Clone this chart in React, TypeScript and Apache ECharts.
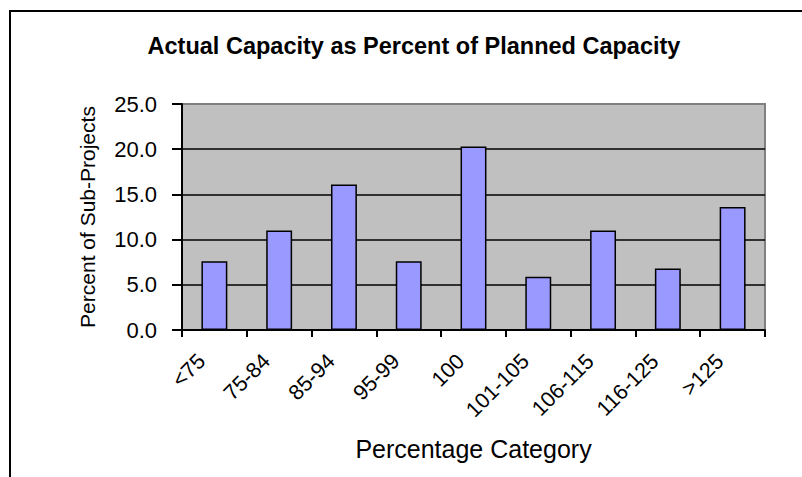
import React, { useEffect, useRef } from "react";
import * as echarts from "echarts";

const categories = ["<75", "75-84", "85-94", "95-99", "100", "101-105", "106-115", "116-125", ">125"];
const percentValues = [7.6, 11.0, 16.1, 7.6, 20.3, 5.9, 11.0, 6.8, 13.6];
const titleText = "Actual Capacity as Percent of Planned Capacity";
const xAxisName = "Percentage Category";
const yAxisName = "Percent of Sub-Projects";

const FONT = '"Liberation Sans", Arial, sans-serif';

export default function App() {
  const ref = useRef<HTMLDivElement>(null);
  useEffect(() => {
    if (!ref.current) return;
    const chart = echarts.init(ref.current, undefined, { renderer: "svg" });
    chart.setOption({
      animation: false,
      backgroundColor: "#ffffff",
      title: {
        text: titleText,
        left: 409,
        top: 29,
        textAlign: "center",
        textStyle: { fontFamily: FONT, fontSize: 23.5, fontWeight: "bold", color: "#000" },
      },
      graphic: [
        {
          type: "rect",
          shape: { x: 10, y: 11, width: 900, height: 700 },
          style: { fill: "none", stroke: "#000", lineWidth: 2 },
          silent: true,
          z: 100,
        },
      ],
      grid: {
        left: 182,
        top: 104,
        right: 37,
        bottom: 147,
        containLabel: false,
        show: true,
        backgroundColor: "#C0C0C0",
        borderColor: "#808080",
        borderWidth: 2,
      },
      xAxis: {
        type: "category",
        data: categories,
        boundaryGap: true,
        name: xAxisName,
        nameLocation: "middle",
        nameGap: 106,
        nameTextStyle: { fontFamily: FONT, fontSize: 25, color: "#000" },
        axisLine: { show: true, lineStyle: { color: "#000", width: 2 } },
        axisTick: { show: true, length: 7, interval: 0, lineStyle: { color: "#000", width: 2 } },
        axisLabel: {
          interval: 0,
          rotate: 45,
          margin: 15,
          padding: [0, 18, 0, 0],
          fontFamily: FONT,
          fontSize: 21.5,
          color: "#000",
        },
        splitLine: { show: false },
      },
      yAxis: {
        type: "value",
        min: 0,
        max: 25,
        interval: 5,
        name: yAxisName,
        nameLocation: "middle",
        nameGap: 84,
        nameTextStyle: { fontFamily: FONT, fontSize: 21, color: "#000" },
        axisLine: { show: true, lineStyle: { color: "#000", width: 2 } },
        axisTick: { show: true, length: 10, lineStyle: { color: "#000", width: 2 } },
        axisLabel: {
          margin: 25,
          fontFamily: FONT,
          fontSize: 22,
          color: "#000",
          formatter: (v: number) => v.toFixed(1),
        },
        splitLine: {
          show: true,
          lineStyle: { color: ["#000", "#000", "#000", "#000", "#000", "#808080"], width: 1.5 },
        },
      },
      series: [
        {
          type: "bar",
          data: percentValues,
          barWidth: "40%",
          itemStyle: { color: "#9999FF", borderColor: "#000", borderWidth: 1.5 },
        },
      ],
    });
    return () => chart.dispose();
  }, []);
  return (
    <div
      ref={ref}
      style={{ position: "absolute", left: 0, top: 0, width: 802, height: 477 }}
    />
  );
}
